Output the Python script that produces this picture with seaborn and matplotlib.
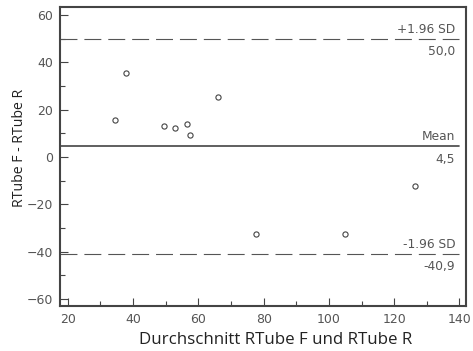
import matplotlib
matplotlib.use("Agg")
import matplotlib.pyplot as plt
from matplotlib.ticker import MultipleLocator
import seaborn as sns
import pandas as pd

# Bland-Altman data: mean of both methods vs. their difference
mean_rtube = [34.4, 37.7, 49.4, 52.9, 56.5, 57.5, 66.0, 77.8, 104.8, 126.5]
diff_rtube = [15.6, 35.7, 13.1, 12.3, 14.0, 9.2, 25.3, -32.6, -32.6, -12.3]

# Reference lines: upper limit, mean difference, lower limit
ref_values = [50.0, 4.5, -40.9]
ref_names = ["+1.96 SD", "Mean", "-1.96 SD"]
ref_texts = ["50,0", "4,5", "-40,9"]
ref_dashed = [True, False, True]

df = pd.DataFrame({"mean": mean_rtube, "diff": diff_rtube})

sns.set_style("white")
plt.rcParams["lines.scale_dashes"] = False

W, H, DPI = 473, 351, 100
fig = plt.figure(figsize=(W / DPI, H / DPI), dpi=DPI)
ax = fig.add_axes([60 / W, 1 - 306 / H, 406 / W, 299 / H])

XMIN, XMAX = 17.6, 142.0
YMIN, YMAX = -63.0, 63.4
ax.set_xlim(XMIN, XMAX)
ax.set_ylim(YMIN, YMAX)

small_font = "DejaVu Sans"
text_col = "#555555"
for val, name, txt, dashed in zip(ref_values, ref_names, ref_texts, ref_dashed):
    if dashed:
        ax.plot([XMIN, 140], [val, val], color="#555555", lw=0.8,
                dashes=(12.2, 5.0), zorder=2)
    else:
        ax.plot([XMIN, 140], [val, val], color="#444444", lw=1.2, zorder=2)
    ax.annotate(name, xy=(140, val), xytext=(-3, 4.3), textcoords="offset points",
                ha="right", va="baseline", fontsize=8.8, color=text_col,
                family=small_font)
    ax.annotate(txt, xy=(140, val), xytext=(-3, -11.8), textcoords="offset points",
                ha="right", va="baseline", fontsize=8.8, color=text_col,
                family=small_font)

sns.scatterplot(data=df, x="mean", y="diff", ax=ax, marker="o", s=14,
                facecolor="white", edgecolor="#444444", linewidth=0.8, zorder=3)

ax.xaxis.set_major_locator(MultipleLocator(20))
ax.xaxis.set_minor_locator(MultipleLocator(10))
ax.yaxis.set_major_locator(MultipleLocator(20))
ax.yaxis.set_minor_locator(MultipleLocator(10))
ax.tick_params(which="both", bottom=True, left=True, top=False, right=False)
ax.tick_params(which="major", direction="in", length=6, width=0.8,
               color="#444444", labelsize=9, labelcolor=text_col, pad=5)
ax.tick_params(which="minor", direction="in", length=3.8, width=0.8,
               color="#444444")
for lab in ax.get_xticklabels() + ax.get_yticklabels():
    lab.set_family(small_font)

for sp in ax.spines.values():
    sp.set_visible(True)
    sp.set_color("#444444")
    sp.set_linewidth(1.5)

ax.set_xlabel("Durchschnitt RTube F und RTube R", fontsize=12.2,
              family="Open Sans", color="#222222")
ax.set_ylabel("RTube F - RTube R", fontsize=10.2, family="Open Sans",
              color="#222222")
ax.xaxis.set_label_coords(0.53, -0.087)
ax.yaxis.set_label_coords(-0.081, 0.528)

fig.savefig("out.png", dpi=DPI)
